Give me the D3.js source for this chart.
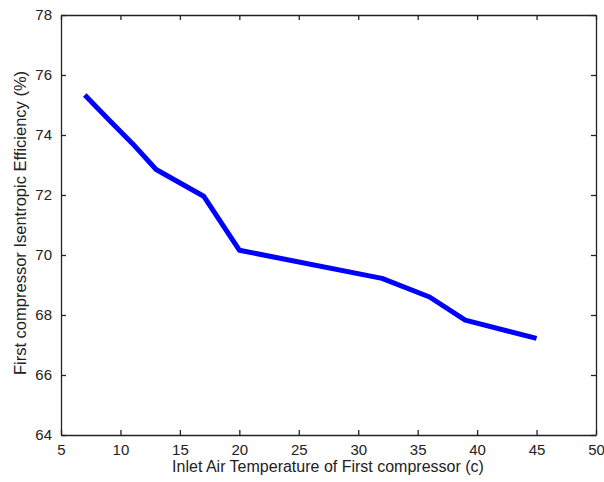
<!DOCTYPE html>
<html>
<head>
<meta charset="utf-8">
<script src="https://cdn.jsdelivr.net/npm/d3@7"></script>
<style>
  html, body { margin: 0; padding: 0; background: #fff; }
  svg { display: block; }
  text { font-family: Arial, "Liberation Sans", sans-serif; fill: #222; }
</style>
</head>
<body>
<svg id="chart" width="604" height="482"></svg>
<script>
// Inlet air temperature (c) and first compressor isentropic efficiency (%)
const temperature = [7, 9, 11, 13, 17, 20, 32, 36, 39, 45];
const efficiency = [75.33, 74.52, 73.72, 72.85, 71.96, 70.16, 69.22, 68.6, 67.83, 67.22];
const xTicks = [5, 10, 15, 20, 25, 30, 35, 40, 45, 50];
const yTicks = [64, 66, 68, 70, 72, 74, 76, 78];
const xTitle = "Inlet Air Temperature of First compressor (c)";
const yTitle = "First compressor Isentropic Efficiency (%)";

const svg = d3.select("#chart");
const m = { left: 61, top: 15, right: 596, bottom: 435 };

const x = d3.scaleLinear().domain([5, 50]).range([m.left, m.right]);
const y = d3.scaleLinear().domain([64, 78]).range([m.bottom, m.top]);

const axisColor = "#222";
const tickFont = 15;

// Bottom axis with inward ticks
const gx = svg.append("g").attr("transform", `translate(0,${m.bottom})`)
  .call(d3.axisBottom(x).tickValues(xTicks).tickSizeInner(-5).tickSizeOuter(0).tickPadding(9));
// Top axis (ticks only)
const gxt = svg.append("g").attr("transform", `translate(0,${m.top})`)
  .call(d3.axisTop(x).tickValues(xTicks).tickSizeInner(-5).tickSizeOuter(0).tickFormat(""));
// Left axis
const gy = svg.append("g").attr("transform", `translate(${m.left},0)`)
  .call(d3.axisLeft(y).tickValues(yTicks).tickSizeInner(-5).tickSizeOuter(0).tickPadding(9));
// Right axis (ticks only)
const gyr = svg.append("g").attr("transform", `translate(${m.right},0)`)
  .call(d3.axisRight(y).tickValues(yTicks).tickSizeInner(-5).tickSizeOuter(0).tickFormat(""));

[gx, gxt, gy, gyr].forEach(g => {
  g.select(".domain").attr("stroke", axisColor).attr("stroke-width", 1.3);
  g.selectAll(".tick line").attr("stroke", axisColor).attr("stroke-width", 1.3);
  g.selectAll(".tick text").attr("font-size", tickFont)
    .attr("font-family", "Arial, 'Liberation Sans', sans-serif").attr("fill", "#222");
});

// Series line
const line = d3.line().x((d, i) => x(temperature[i])).y(d => y(d));
svg.append("path")
  .datum(efficiency)
  .attr("d", line)
  .attr("fill", "none")
  .attr("stroke", "#0000ff")
  .attr("stroke-width", 5)
  .attr("stroke-linejoin", "round")
  .attr("stroke-linecap", "butt");

// Axis titles
svg.append("text")
  .attr("x", 328)
  .attr("y", 472)
  .attr("text-anchor", "middle")
  .attr("font-size", 16)
  .text(xTitle);

svg.append("text")
  .attr("transform", "translate(26,223) rotate(-90)")
  .attr("text-anchor", "middle")
  .attr("font-size", 16.5)
  .text(yTitle);
</script>
</body>
</html>
